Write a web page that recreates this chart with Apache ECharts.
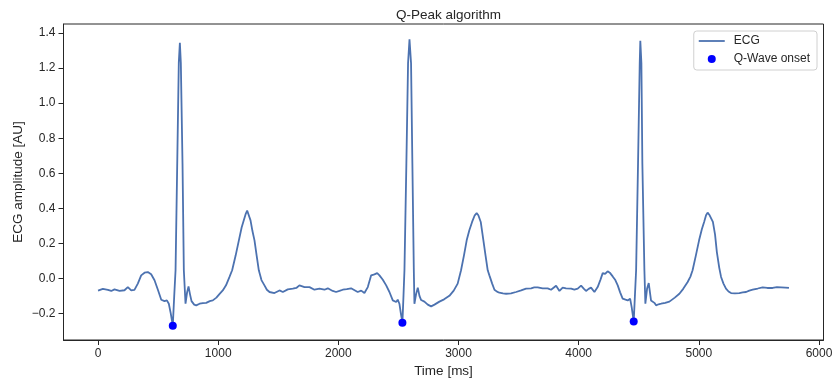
<!DOCTYPE html>
<html>
<head>
<meta charset="utf-8">
<script src="https://cdn.jsdelivr.net/npm/echarts@6/dist/echarts.min.js"></script>
<style>
html,body{margin:0;padding:0;background:#fff;}
#chart{width:835px;height:380px;}
</style>
</head>
<body>
<div id="chart"></div>
<script>
var ecgTime = [0,40,82,110,137,179,220,248,276,303,331,359,387,414,442,470,498,526,553,573,589,605,622,634,645,659,672,681,689,703,714,728,741,753,765,778,789,800,817,845,872,900,930,955,985,1010,1038,1065,1094,1116,1145,1172,1195,1213,1230,1241,1252,1269,1285,1302,1320,1338,1360,1385,1405,1427,1468,1510,1538,1579,1621,1650,1676,1718,1760,1801,1843,1884,1912,1953,1981,2009,2037,2070,2106,2135,2161,2190,2217,2245,2273,2300,2323,2342,2370,2398,2425,2453,2481,2494,2508,2520,2533,2542,2550,2566,2580,2592,2605,2616,2628,2633,2647,2661,2675,2689,2716,2744,2772,2800,2841,2880,2924,2960,2993,3021,3045,3068,3090,3113,3135,3151,3165,3185,3207,3225,3243,3257,3280,3299,3320,3340,3370,3396,3437,3479,3521,3562,3604,3630,3659,3700,3742,3770,3812,3840,3867,3895,3937,3964,3992,4020,4042,4061,4083,4103,4131,4158,4180,4200,4220,4241,4262,4283,4305,4325,4345,4366,4390,4408,4428,4441,4458,4468,4478,4494,4508,4513,4522,4530,4547,4555,4569,4583,4602,4616,4630,4644,4665,4686,4720,4755,4800,4838,4870,4907,4930,4948,4975,5002,5025,5044,5060,5073,5090,5117,5135,5150,5170,5185,5205,5226,5247,5268,5300,5337,5365,5393,5420,5448,5490,5531,5570,5614,5650,5684,5720,5750];
var ecgAmp = [-0.070,-0.060,-0.066,-0.072,-0.063,-0.072,-0.068,-0.050,-0.069,-0.066,-0.030,0.017,0.032,0.036,0.023,-0.011,-0.065,-0.122,-0.130,-0.126,-0.145,-0.200,-0.270,-0.100,0.046,0.655,1.230,1.345,1.230,0.655,0.046,-0.145,-0.080,-0.046,-0.090,-0.130,-0.135,-0.150,-0.154,-0.145,-0.141,-0.140,-0.130,-0.126,-0.110,-0.090,-0.069,-0.040,0.008,0.046,0.130,0.217,0.290,0.331,0.370,0.387,0.378,0.331,0.270,0.217,0.130,0.046,-0.010,-0.040,-0.065,-0.078,-0.084,-0.069,-0.078,-0.063,-0.059,-0.055,-0.040,-0.050,-0.050,-0.065,-0.059,-0.065,-0.057,-0.072,-0.078,-0.072,-0.065,-0.062,-0.057,-0.068,-0.078,-0.070,-0.084,-0.050,0.017,0.023,0.030,0.017,-0.008,-0.040,-0.078,-0.126,-0.135,-0.122,-0.145,-0.200,-0.253,-0.100,0.046,0.655,1.227,1.364,1.227,0.655,0.046,-0.145,-0.090,-0.053,-0.100,-0.124,-0.133,-0.150,-0.160,-0.150,-0.133,-0.120,-0.100,-0.070,-0.030,0.046,0.130,0.217,0.275,0.322,0.360,0.372,0.360,0.322,0.217,0.130,0.046,0.017,-0.030,-0.065,-0.076,-0.082,-0.086,-0.088,-0.086,-0.078,-0.069,-0.059,-0.057,-0.052,-0.051,-0.057,-0.057,-0.065,-0.042,-0.072,-0.053,-0.057,-0.059,-0.065,-0.059,-0.042,-0.059,-0.072,-0.060,-0.053,-0.078,-0.050,-0.010,0.030,0.025,0.040,0.030,0.011,-0.010,-0.040,-0.080,-0.116,-0.122,-0.126,-0.116,-0.164,-0.246,-0.100,0.046,0.655,1.227,1.356,1.227,0.655,0.046,-0.145,-0.060,-0.027,-0.126,-0.122,-0.140,-0.154,-0.148,-0.145,-0.140,-0.133,-0.110,-0.088,-0.060,-0.021,0.010,0.046,0.130,0.217,0.280,0.322,0.360,0.375,0.360,0.322,0.250,0.150,0.060,0.008,-0.030,-0.059,-0.075,-0.084,-0.086,-0.084,-0.080,-0.078,-0.070,-0.065,-0.058,-0.051,-0.055,-0.055,-0.050,-0.051,-0.053,-0.055];
var qTime = [622, 2533, 4458];
var qAmp = [-0.270, -0.253, -0.246];
var xTicks = [0, 1000, 2000, 3000, 4000, 5000, 6000];
var yTicks = [-0.2, 0.0, 0.2, 0.4, 0.6, 0.8, 1.0, 1.2, 1.4];

var ecgData = ecgTime.map(function (t, i) { return [t, ecgAmp[i]]; });
var qData = qTime.map(function (t, i) { return [t, qAmp[i]]; });

var dark = '#262626';
var font = 'Liberation Sans, Arial, sans-serif';

var chart = echarts.init(document.getElementById('chart'), null, {renderer: 'canvas'});
chart.setOption({
  animation: false,
  backgroundColor: '#ffffff',
  textStyle: {fontFamily: font},
  title: {
    text: 'Q-Peak algorithm',
    left: 443.5,
    textAlign: 'center',
    top: 3,
    textStyle: {fontFamily: font, fontSize: 13.5, fontWeight: 'normal', color: dark}
  },
  legend: {
    orient: 'vertical',
    right: 18,
    top: 31,
    padding: [3, 7, 4, 5],
    itemGap: 4,
    itemWidth: 26,
    itemHeight: 8,
    borderColor: '#d0d0d0',
    borderWidth: 1,
    borderRadius: 3,
    backgroundColor: 'rgba(255,255,255,0.8)',
    textStyle: {fontFamily: font, fontSize: 12, color: dark, padding: [0, 0, 0, 4], lineHeight: 14},
    data: [
      {name: 'ECG', icon: 'path://M0,0 L26,0 L26,1.8 L0,1.8 Z'},
      {name: 'Q-Wave onset', icon: 'circle'}
    ]
  },
  grid: {
    left: 63.5, right: 11.5, top: 24, bottom: 40,
    containLabel: false,
    outerBoundsMode: 'none',
    show: true, borderColor: dark, borderWidth: 1, backgroundColor: 'transparent'
  },
  xAxis: {
    type: 'value',
    min: -287.5,
    max: 6037.5,
    name: 'Time [ms]',
    nameLocation: 'middle',
    nameGap: 24,
    nameMoveOverlap: false,
    nameTextStyle: {fontFamily: font, fontSize: 13.5, color: dark},
    axisLine: {show: true, onZero: false, lineStyle: {color: dark, width: 1}},
    axisTick: {show: true, inside: false, length: 5, customValues: xTicks, lineStyle: {color: dark}},
    axisLabel: {customValues: xTicks, margin: 8, fontFamily: font, fontSize: 12, color: dark,
      formatter: function (v) { return String(v); }},
    splitLine: {show: false}
  },
  yAxis: {
    type: 'value',
    min: -0.352,
    max: 1.452,
    name: 'ECG amplitude [AU]',
    nameLocation: 'middle',
    nameGap: 38,
    nameMoveOverlap: false,
    nameTextStyle: {fontFamily: font, fontSize: 13.5, color: dark},
    axisLine: {show: true, onZero: false, lineStyle: {color: dark, width: 1}},
    axisTick: {show: true, inside: false, length: 5, customValues: yTicks, lineStyle: {color: dark}},
    axisLabel: {customValues: yTicks, margin: 8, fontFamily: font, fontSize: 12, color: dark,
      formatter: function (v) { return (Math.abs(v) < 1e-9 ? 0 : v).toFixed(1).replace('-', '\u2212'); }},
    splitLine: {show: false}
  },
  series: [
    {
      name: 'ECG',
      type: 'line',
      data: ecgData,
      showSymbol: false,
      symbol: 'none',
      smooth: false,
      lineStyle: {color: '#4c72b0', width: 1.8},
      itemStyle: {color: '#4c72b0'},
      z: 2
    },
    {
      name: 'Q-Wave onset',
      type: 'scatter',
      data: qData,
      symbol: 'circle',
      symbolSize: 8,
      itemStyle: {color: '#0000ff', opacity: 1},
      z: 3
    }
  ]
});
</script>
</body>
</html>
